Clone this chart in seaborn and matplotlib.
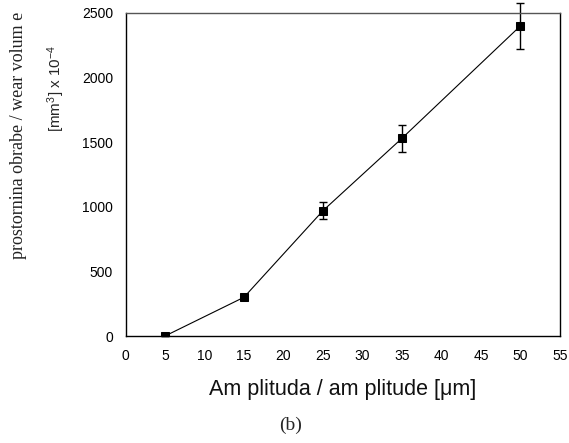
import matplotlib
matplotlib.use("Agg")
import matplotlib.pyplot as plt
import seaborn as sns
import pandas as pd

amplitude = [5, 15, 25, 35, 50]
wear_volume = [0, 300, 970, 1530, 2400]
error = [0, 0, 68, 106, 175]
x_ticks = list(range(0, 60, 5))
y_ticks = [0, 500, 1000, 1500, 2000, 2500]

df = pd.DataFrame({"amplitude": amplitude, "wear": wear_volume, "err": error})

sns.set_style("white")
plt.rcParams['font.family'] = ['Liberation Sans', 'DejaVu Sans']
plt.rcParams['mathtext.fontset'] = 'custom'
plt.rcParams['mathtext.rm'] = 'Liberation Sans'
plt.rcParams['mathtext.it'] = 'Liberation Sans'

fig = plt.figure(figsize=(5.69, 4.43), dpi=100)
ax = fig.add_axes([0.2206, 0.2415, 0.7634, 0.7292])

ax.errorbar(df["amplitude"], df["wear"], yerr=df["err"], fmt='none',
            ecolor='black', elinewidth=1.0, capsize=3, capthick=1.0,
            clip_on=False, zorder=2)
sns.lineplot(data=df, x="amplitude", y="wear", ax=ax, color='black',
             linewidth=0.8, marker='s', markersize=6, markeredgecolor='black',
             markerfacecolor='black', zorder=3)

ax.set_xlim(0, 55)
ax.set_ylim(0, 2500)
ax.set_xticks(x_ticks)
ax.set_yticks(y_ticks)
ax.tick_params(axis='x', direction='inout', length=8, width=1, labelsize=10,
               pad=5, colors='black')
ax.tick_params(axis='y', direction='out', length=5, width=1, labelsize=10,
               pad=4, colors='black')
for s in ['left', 'bottom', 'right']:
    ax.spines[s].set_color('black')
    ax.spines[s].set_linewidth(1.0)
ax.spines['top'].set_color('#555555')
ax.spines['top'].set_linewidth(1.0)

ax.set_xlabel("Am plituda / am plitude [μm]", fontsize=15.5, labelpad=12,
              color='#111111')
ax.set_ylabel("")

fig.text(0.032, 0.695, "prostornina obrabe / wear volum e", rotation=90,
         family='Liberation Serif', fontsize=13, ha='center', va='center',
         color='#222222')
fig.text(0.099, 0.80, "[mm$^3$] x 10$^{-4}$", rotation=90,
         family='Liberation Sans', fontsize=11, ha='center', va='center')
fig.text(0.51, 0.04, "(b)", family='Liberation Serif', fontsize=14,
         ha='center', va='center')

fig.savefig("out.png", dpi=100)
